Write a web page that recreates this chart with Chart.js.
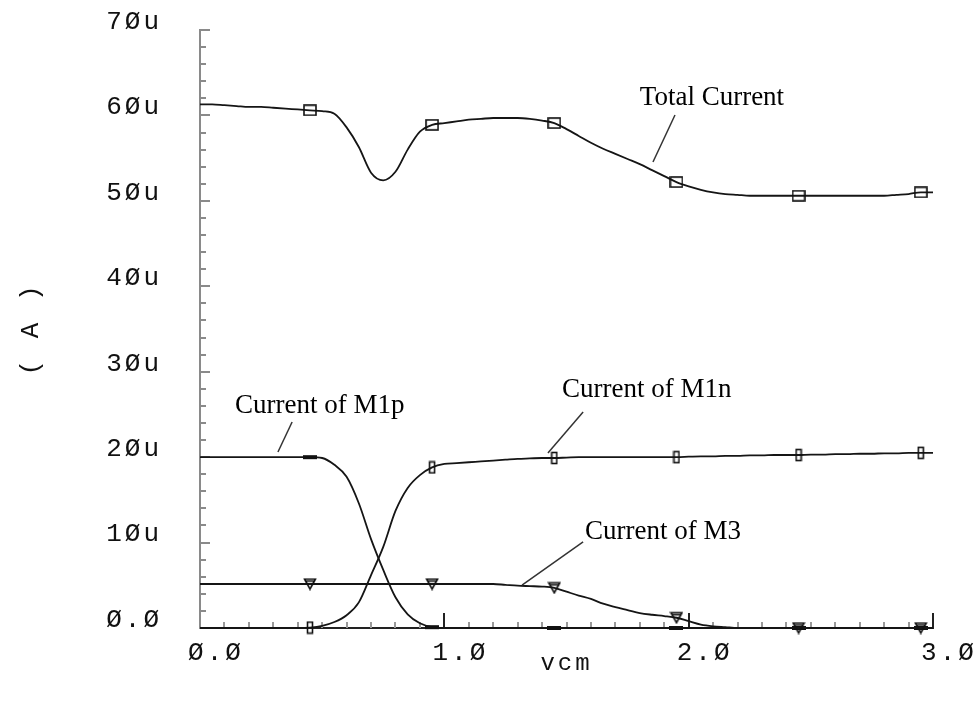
<!DOCTYPE html>
<html><head><meta charset="utf-8">
<script src="https://cdn.jsdelivr.net/npm/chart.js@4"></script>
<style>html,body{margin:0;padding:0;background:#fff;}canvas{display:block;}</style>
</head><body>
<canvas id="c" width="977" height="704"></canvas>
<script>
// ---- data (values in microamps) ----
const vcm = [0,0.05,0.1,0.15,0.2,0.25,0.3,0.35,0.4,0.45,0.5,0.55,0.6,0.65,0.7,0.75,0.8,0.85,0.9,0.95,
  1,1.05,1.1,1.15,1.2,1.25,1.3,1.35,1.4,1.45,1.5,1.55,1.6,1.65,1.7,1.75,1.8,1.85,1.9,1.95,
  2,2.05,2.1,2.15,2.2,2.25,2.3,2.35,2.4,2.45,2.5,2.55,2.6,2.65,2.7,2.75,2.8,2.85,2.9,2.95,3];
const totalCurrent = [61.3,61.3,61.2,61.1,61.0,61.0,60.9,60.8,60.7,60.6,60.5,60.2,58.6,56.3,53.3,52.4,53.4,56.0,58.1,58.9,
  59.1,59.3,59.5,59.6,59.7,59.7,59.7,59.6,59.4,59.1,58.4,57.6,56.8,56.1,55.5,54.9,54.3,53.6,52.9,52.2,
  51.7,51.3,51.0,50.8,50.7,50.6,50.6,50.6,50.6,50.6,50.6,50.6,50.6,50.6,50.6,50.6,50.6,50.7,50.8,51.0,51.0];
const currentM1p = [20,20,20,20,20,20,20,20,20,20,19.9,19.1,17.7,14.6,10.4,6.8,3.6,1.6,0.55,0.1,
  0,0,0,0,0,0,0,0,0,0,0,0,0,0,0,0,0,0,0,0,
  0,0,0,0,0,0,0,0,0,0,0,0,0,0,0,0,0,0,0,0,0];
const currentM1n = [0,0,0,0,0,0,0,0,0,0.05,0.25,0.7,1.5,3.0,6.2,9.5,13.7,16.4,17.9,18.8,
  19.2,19.3,19.4,19.5,19.6,19.7,19.8,19.85,19.9,19.9,19.95,20,20,20,20,20,20,20,20,20,
  20.05,20.1,20.1,20.15,20.15,20.2,20.2,20.25,20.25,20.25,20.3,20.3,20.35,20.35,20.4,20.4,20.45,20.45,20.5,20.5,20.5];
const currentM3 = [5.15,5.15,5.15,5.15,5.15,5.15,5.15,5.15,5.15,5.15,5.15,5.15,5.15,5.15,5.15,5.15,5.15,5.15,5.15,5.15,
  5.15,5.15,5.15,5.15,5.15,5.05,4.95,4.9,4.85,4.7,4.25,3.8,3.4,2.85,2.45,2.1,1.75,1.55,1.4,1.2,
  0.8,0.4,0.2,0.1,0,0,0,0,0,0,0,0,0,0,0,0,0,0,0,0,0];
const markerVcm = [0.45,0.95,1.45,1.95,2.45,2.95];
const yTickLabels = ['Ø.Ø','1Øu','2Øu','3Øu','4Øu','5Øu','6Øu','7Øu'];
const xTickLabels = ['Ø.Ø','1.Ø','2.Ø','3.Ø'];
// annotation labels in data units
const labelText = ['Total Current','Current of M1p','Current of M1n','Current of M3'];
const labelPos = [[1.80,61.2],[0.143,25.17],[1.482,27.04],[1.576,10.42]];
const leaderFrom = [[1.944,60.05],[0.377,24.11],[1.568,25.28],[1.568,10.07]];
const leaderTo = [[1.854,54.55],[0.319,20.6],[1.424,20.48],[1.318,5.03]];

// ---- marker glyphs ----
function mk(w,h,draw){const c=document.createElement('canvas');c.width=w;c.height=h;const g=c.getContext('2d');g.strokeStyle='#111';g.fillStyle='#111';g.lineWidth=1.6;draw(g);return c;}
const sqMark = mk(14,12,g=>g.strokeRect(1,1,12,10));
const tallMark = mk(8,14,g=>g.strokeRect(1.5,1.5,5,11));
const triMark = mk(14,13,g=>{g.beginPath();g.moveTo(1.5,1.5);g.lineTo(12.5,1.5);g.lineTo(7,11.5);g.closePath();g.stroke();g.beginPath();g.moveTo(2.5,3.5);g.lineTo(11.5,3.5);g.stroke();});
const dashMark = mk(14,6,g=>g.fillRect(0,1,14,4));

function series(vals){return vals.map((v,i)=>({x:vcm[i],y:v}));}
function radiusFn(ctx){return markerVcm.includes(vcm[ctx.dataIndex])?6:0;}
function ds(vals,mark){return {data:series(vals),borderColor:'#151515',borderWidth:1.8,pointStyle:mark,
  pointRadius:radiusFn,pointHoverRadius:radiusFn,cubicInterpolationMode:'monotone',clip:false,fill:false};}

const monoFont = {family:'Liberation Mono', size:26};

const tickPlugin = {
  id:'tickmarks',
  beforeDraw(chart){ chart.ctx.letterSpacing='3px'; },
  beforeDatasetsDraw(chart){
    const {ctx,scales:{x,y}} = chart;
    const x0 = x.getPixelForValue(0), y0 = y.getPixelForValue(0);
    ctx.save();
    ctx.lineWidth = 2;
    ctx.strokeStyle = '#8a8a8a';
    for(let v=0; v<=70; v+=2){
      const py = Math.round(y.getPixelForValue(v));
      const len = (v%10===0)?10:6;
      ctx.beginPath();ctx.moveTo(x0,py);ctx.lineTo(x0+len,py);ctx.stroke();
    }
    for(let k=1; k<=30; k++){
      const px = Math.round(x.getPixelForValue(k/10));
      const len = (k%10===0)?15:6;
      ctx.strokeStyle = (k%10===0)?'#222':'#9a9a9a';
      ctx.beginPath();ctx.moveTo(px,y0);ctx.lineTo(px,y0-len);ctx.stroke();
    }
    ctx.restore();
  },
  afterDatasetsDraw(chart){
    const {ctx,scales:{x,y}} = chart;
    ctx.save();
    ctx.letterSpacing='0px';
    ctx.font = '27px "Liberation Serif"';
    ctx.fillStyle = '#000';
    ctx.textBaseline = 'alphabetic';
    ctx.textAlign = 'left';
    ctx.strokeStyle = '#333';
    ctx.lineWidth = 1.5;
    labelText.forEach((t,i)=>{
      ctx.fillText(t, x.getPixelForValue(labelPos[i][0]), y.getPixelForValue(labelPos[i][1]));
      ctx.beginPath();
      ctx.moveTo(x.getPixelForValue(leaderFrom[i][0]), y.getPixelForValue(leaderFrom[i][1]));
      ctx.lineTo(x.getPixelForValue(leaderTo[i][0]), y.getPixelForValue(leaderTo[i][1]));
      ctx.stroke();
    });
    ctx.restore();
  }
};

new Chart(document.getElementById('c'), {
  type:'line',
  data:{datasets:[
    ds(totalCurrent, sqMark),
    ds(currentM1n, tallMark),
    ds(currentM3, triMark),
    ds(currentM1p, dashMark)
  ]},
  options:{
    responsive:false, animation:false, devicePixelRatio:1,
    layout:{padding:{top:30,right:44,left:0,bottom:0}},
    plugins:{legend:{display:false},tooltip:{enabled:false}},
    scales:{
      x:{type:'linear',min:0,max:3,
        afterFit(s){s.height=76;s.paddingLeft=0;s.paddingRight=0;},
        grid:{display:false,drawTicks:false},
        border:{display:true,color:'#222',width:2},
        ticks:{stepSize:1,autoSkip:false,maxRotation:0,padding:10,labelOffset:16,color:'#111',font:monoFont,
          callback:(v)=>xTickLabels[Math.round(v)]},
        title:{display:true,text:'vcm',color:'#111',font:{family:'Liberation Mono',size:24},padding:{top:0,bottom:26}}
      },
      y:{type:'linear',min:0,max:70,
        afterFit(s){s.width=200;s.paddingTop=0;s.paddingBottom=0;},
        grid:{display:false,drawTicks:false},
        border:{display:true,color:'#8a8a8a',width:2},
        ticks:{stepSize:10,autoSkip:false,padding:38,labelOffset:-8,color:'#111',font:monoFont,
          callback:(v)=>yTickLabels[Math.round(v/10)]},
        title:{display:true,text:'( A )',color:'#111',font:{family:'Liberation Mono',size:26},padding:{top:16,bottom:0}}
      }
    }
  },
  plugins:[tickPlugin]
});
</script>
</body></html>
